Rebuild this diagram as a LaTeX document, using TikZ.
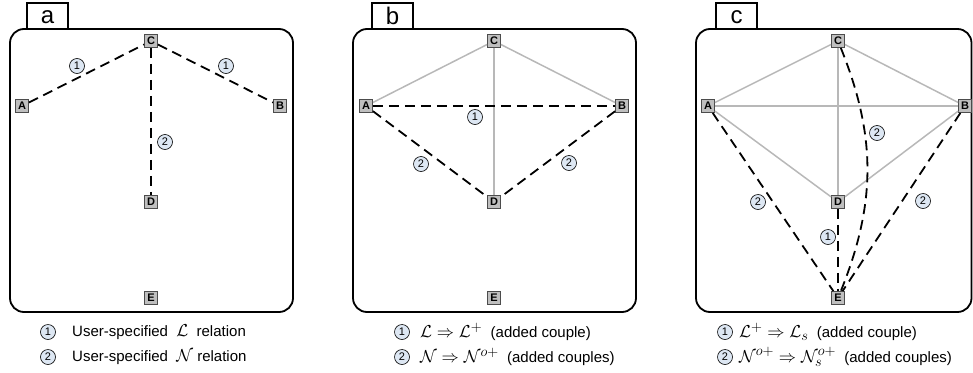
\documentclass[tikz,border=0pt]{standalone}
\usepackage{fontspec}
\setmainfont{Liberation Sans}
\setsansfont{Liberation Sans}
\usepackage{amsmath}
\definecolor{tagfill}{RGB}{221,231,243}
\newcommand{\lmath}[1]{{\fontsize{19}{20}\selectfont$#1$}}
\begin{document}
\begin{tikzpicture}[x=1pt,y=-1pt,
  vtx/.style={draw=black!70, fill=black!25, line width=0.9pt, minimum size=13pt,
    inner sep=0pt, font=\fontsize{11}{11}\selectfont\bfseries},
  tag/.style={circle, draw=black, fill=tagfill, line width=0.6pt, minimum size=15pt,
    inner sep=0pt, font=\fontsize{11}{11}\selectfont},
  rel/.style={line width=1.8pt, dash pattern=on 10pt off 6pt},
  base/.style={line width=1.5pt, draw=black!28},
  panel/.style={draw, line width=1.8pt, rounded corners=14pt},
  tabbox/.style={draw, line width=1.8pt, fill=white, inner sep=0pt},
  tablabel/.style={font=\fontsize{24}{24}\selectfont},
  legend/.style={anchor=west, inner sep=0pt, font=\fontsize{15}{17}\selectfont}]
\useasboundingbox (0,0) rectangle (973,372);

% ---------- panel a ----------
\draw[tabbox] (27,3) rectangle (68,29);
\node[tablabel] (ta) at (47.5,17) {a};
\draw[panel] (10,29) rectangle (293,312);
\node[vtx] (aC) at (151,41) {C};
\node[vtx] (aA) at (22,106) {A};
\node[vtx] (aB) at (280,106) {B};
\node[vtx] (aD) at (151,202) {D};
\node[vtx] (aE) at (151,298) {E};
\draw[rel] (aA) -- (aC);
\draw[rel] (aC) -- (aB);
\draw[rel] (aC) -- (aD);
\node[tag] (a1) at (77,66) {1};
\node[tag] (a2) at (226,66) {1};
\node[tag] (a3) at (165,142) {2};
\node[tag] (la1) at (48,332) {1};
\node[legend] (lta1) at (72,332) {User-specified \ \lmath{\mathcal{L}} \ relation};
\node[tag] (la2) at (48,357) {2};
\node[legend] (lta2) at (72,357) {User-specified \ \lmath{\mathcal{N}} relation};

% ---------- panel b ----------
\draw[tabbox] (372,3) rectangle (413,29);
\node[tablabel] (tb) at (392.5,16) {b};
\draw[panel] (353,29) rectangle (636,312);
\node[vtx] (bC) at (494,41) {C};
\node[vtx] (bA) at (366,106) {A};
\node[vtx] (bB) at (622,106) {B};
\node[vtx] (bD) at (494,202) {D};
\node[vtx] (bE) at (494,298) {E};
\draw[base] (bC) -- (bA);
\draw[base] (bC) -- (bB);
\draw[base] (bC) -- (bD);
\draw[rel] (bA) -- (bB);
\draw[rel] (bA) -- (bD);
\draw[rel] (bB) -- (bD);
\node[tag] (b1) at (475,117) {1};
\node[tag] (b2) at (421,164) {2};
\node[tag] (b3) at (569,163) {2};
\node[tag] (lb1) at (402,332) {1};
\node[legend] (ltb1) at (420,332) {\lmath{\mathcal{L}\Rightarrow\mathcal{L}^{+}} \ (added couple)};
\node[tag] (lb2) at (402,357) {2};
\node[legend] (ltb2) at (420,357) {\lmath{\mathcal{N}\Rightarrow\mathcal{N}^{o+}} \ (added couples)};

% ---------- panel c ----------
\draw[tabbox] (716,3) rectangle (757,29);
\node[tablabel] (tc) at (736.5,17) {c};
\draw[panel] (696,29) rectangle (971.5,312);
\node[vtx] (cC) at (838,41) {C};
\node[vtx] (cA) at (708,106) {A};
\node[vtx] (cB) at (965,106) {B};
\node[vtx] (cD) at (838,202) {D};
\node[vtx] (cE) at (838,298) {E};
\draw[base] (cC) -- (cA);
\draw[base] (cC) -- (cB);
\draw[base] (cC) -- (cD);
\draw[base] (cA) -- (cB);
\draw[base] (cA) -- (cD);
\draw[base] (cB) -- (cD);
\draw[rel] (cA) -- (cE);
\draw[rel] (cB) -- (cE);
\draw[rel] (cD) -- (cE);
\draw[rel] (cC) to[bend left=22] (cE);
\node[tag] (c1) at (877,133) {2};
\node[tag] (c2) at (758,202) {2};
\node[tag] (c3) at (923,201) {2};
\node[tag] (c4) at (828,237) {1};
\node[tag] (lc1) at (725,332) {1};
\node[legend] (ltc1) at (739,332) {\lmath{\mathcal{L}^{+}\Rightarrow\mathcal{L}_{s}} \ (added couple)};
\node[tag] (lc2) at (725,357) {2};
\node[legend] (ltc2) at (739,357) {\lmath{\mathcal{N}^{o+}\Rightarrow\mathcal{N}^{o+}_{s}} \ (added couples)};
\end{tikzpicture}
\end{document}
